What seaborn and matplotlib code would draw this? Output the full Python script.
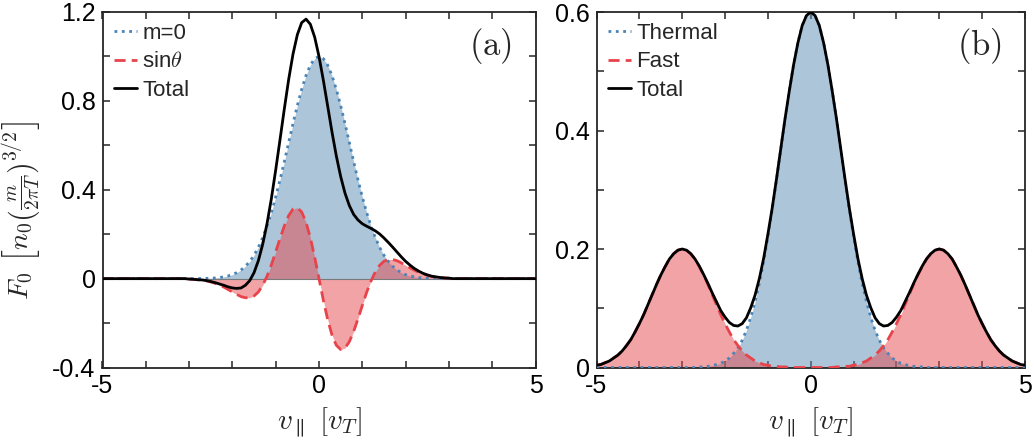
import numpy as np
import matplotlib
matplotlib.use("Agg")
import matplotlib.pyplot as plt
import seaborn as sns

# velocity grid, v_par in units of v_T
v = np.linspace(-5, 5, 101)

# panel (a): m=0 part, sin(theta) part and their total
m0_a = [
    0, 0, 0, 0, 0, 0, 0, 0, 0, 0,
    0, 0, 0, 0, 0, 0, 0, 0, 0, 0,
    0.000, 0.000, 0.000, 0.001, 0.001, 0.002, 0.003, 0.005, 0.008, 0.012,
    0.018, 0.027, 0.039, 0.056, 0.077, 0.105, 0.141, 0.185, 0.237, 0.298,
    0.368, 0.445, 0.527, 0.613, 0.698, 0.779, 0.852, 0.914, 0.961, 0.990,
    1.000, 0.990, 0.961, 0.914, 0.852, 0.779, 0.698, 0.613, 0.527, 0.445,
    0.368, 0.298, 0.237, 0.185, 0.141, 0.105, 0.077, 0.056, 0.039, 0.027,
    0.018, 0.012, 0.008, 0.005, 0.003, 0.002, 0.001, 0.001, 0.000, 0.000,
    0, 0, 0, 0, 0, 0, 0, 0, 0, 0,
    0, 0, 0, 0, 0, 0, 0, 0, 0, 0,
    0,
]
sin_a = [
    0, 0, 0, 0, 0, 0, 0, 0, 0, 0,
    0, 0, 0, 0, 0, 0, 0, 0, 0, 0,
    -0.002, -0.003, -0.005, -0.007, -0.010, -0.015, -0.021, -0.029, -0.038, -0.049,
    -0.060, -0.071, -0.081, -0.086, -0.086, -0.078, -0.060, -0.030, 0.011, 0.062,
    0.121, 0.181, 0.238, 0.284, 0.313, 0.319, 0.300, 0.254, 0.184, 0.097,
    0.000, -0.097, -0.184, -0.254, -0.300, -0.319, -0.313, -0.284, -0.238, -0.181,
    -0.121, -0.062, -0.011, 0.030, 0.060, 0.078, 0.086, 0.086, 0.081, 0.071,
    0.060, 0.049, 0.038, 0.029, 0.021, 0.015, 0.010, 0.007, 0.005, 0.003,
    0.002, 0, 0, 0, 0, 0, 0, 0, 0, 0,
    0, 0, 0, 0, 0, 0, 0, 0, 0, 0,
    0,
]
total_a = [
    0, 0, 0, 0, 0, 0, 0, 0, 0, 0,
    0, 0, 0, 0, 0, 0, 0, 0, 0, 0,
    -0.002, -0.003, -0.005, -0.006, -0.009, -0.013, -0.018, -0.024, -0.030, -0.037,
    -0.042, -0.044, -0.042, -0.030, -0.009, 0.027, 0.081, 0.155, 0.248, 0.360,
    0.489, 0.626, 0.765, 0.897, 1.011, 1.098, 1.152, 1.168, 1.145, 1.087,
    1.000, 0.893, 0.777, 0.660, 0.552, 0.460, 0.385, 0.329, 0.289, 0.264,
    0.247, 0.236, 0.226, 0.215, 0.201, 0.183, 0.163, 0.142, 0.120, 0.098,
    0.078, 0.061, 0.046, 0.034, 0.024, 0.017, 0.011, 0.008, 0.005, 0.003,
    0.002, 0, 0, 0, 0, 0, 0, 0, 0, 0,
    0, 0, 0, 0, 0, 0, 0, 0, 0, 0,
    0,
]

# panel (b): thermal bulk, fast beams and total
thermal_b = [
    0, 0, 0, 0, 0, 0, 0, 0, 0, 0,
    0, 0, 0, 0, 0, 0, 0, 0, 0, 0,
    0.000, 0.000, 0.000, 0.000, 0.001, 0.001, 0.002, 0.003, 0.005, 0.007,
    0.011, 0.016, 0.024, 0.033, 0.046, 0.063, 0.085, 0.111, 0.142, 0.179,
    0.221, 0.267, 0.316, 0.368, 0.419, 0.467, 0.511, 0.548, 0.577, 0.594,
    0.600, 0.594, 0.577, 0.548, 0.511, 0.467, 0.419, 0.368, 0.316, 0.267,
    0.221, 0.179, 0.142, 0.111, 0.085, 0.063, 0.046, 0.033, 0.024, 0.016,
    0.011, 0.007, 0.005, 0.003, 0.002, 0.001, 0.001, 0.000, 0.000, 0.000,
    0, 0, 0, 0, 0, 0, 0, 0, 0, 0,
    0, 0, 0, 0, 0, 0, 0, 0, 0, 0,
    0,
]
fast_b = [
    0.004, 0.005, 0.008, 0.011, 0.016, 0.021, 0.028, 0.037, 0.047, 0.060,
    0.074, 0.089, 0.106, 0.123, 0.140, 0.156, 0.170, 0.183, 0.192, 0.198,
    0.200, 0.198, 0.192, 0.183, 0.170, 0.156, 0.140, 0.123, 0.106, 0.089,
    0.074, 0.060, 0.047, 0.037, 0.028, 0.021, 0.016, 0.011, 0.008, 0.005,
    0.004, 0.002, 0.002, 0.001, 0.001, 0.000, 0.000, 0.000, 0.000, 0.000,
    0.000, 0.000, 0.000, 0.000, 0.000, 0.000, 0.001, 0.001, 0.002, 0.002,
    0.004, 0.005, 0.008, 0.011, 0.016, 0.021, 0.028, 0.037, 0.047, 0.060,
    0.074, 0.089, 0.106, 0.123, 0.140, 0.156, 0.170, 0.183, 0.192, 0.198,
    0.200, 0.198, 0.192, 0.183, 0.170, 0.156, 0.140, 0.123, 0.106, 0.089,
    0.074, 0.060, 0.047, 0.037, 0.028, 0.021, 0.016, 0.011, 0.008, 0.005,
    0.004,
]
total_b = [
    0.004, 0.005, 0.008, 0.011, 0.016, 0.021, 0.028, 0.037, 0.047, 0.060,
    0.074, 0.089, 0.106, 0.123, 0.140, 0.156, 0.170, 0.183, 0.192, 0.198,
    0.200, 0.198, 0.192, 0.183, 0.171, 0.157, 0.142, 0.126, 0.111, 0.096,
    0.085, 0.076, 0.071, 0.070, 0.074, 0.084, 0.101, 0.122, 0.150, 0.184,
    0.225, 0.269, 0.318, 0.369, 0.420, 0.467, 0.511, 0.548, 0.577, 0.594,
    0.600, 0.594, 0.577, 0.548, 0.511, 0.467, 0.420, 0.369, 0.318, 0.269,
    0.225, 0.184, 0.150, 0.122, 0.101, 0.084, 0.074, 0.070, 0.071, 0.076,
    0.085, 0.096, 0.111, 0.126, 0.142, 0.157, 0.171, 0.183, 0.192, 0.198,
    0.200, 0.198, 0.192, 0.183, 0.170, 0.156, 0.140, 0.123, 0.106, 0.089,
    0.074, 0.060, 0.047, 0.037, 0.028, 0.021, 0.016, 0.011, 0.008, 0.005,
    0.004,
]

labels_a = ['m=0', r'sin$\theta$', 'Total']
labels_b = ['Thermal', 'Fast', 'Total']

BLUE = '#4a84b6'
BLUE_FILL = '#5a8db5'
RED = '#e8434b'
RED_FILL = '#e5494f'

sns.set_theme(style='ticks')
plt.rcParams['font.family'] = ['Liberation Sans', 'DejaVu Sans']
plt.rcParams['mathtext.fontset'] = 'cm'
plt.rcParams['axes.linewidth'] = 1.3
plt.rcParams['axes.edgecolor'] = '#262626'


def draw_panel(ax, blue, red, total, labels, tag):
    ax.fill_between(v, 0, blue, color=BLUE_FILL, alpha=0.5, linewidth=0, zorder=1)
    ax.fill_between(v, 0, red, color=RED_FILL, alpha=0.5, linewidth=0, zorder=2)
    ax.axhline(0, color='#7a7a7a', linewidth=0.8, zorder=2.5)
    sns.lineplot(x=v, y=blue, ax=ax, color=BLUE, linestyle=':', linewidth=2.0,
                 label=labels[0], zorder=3)
    sns.lineplot(x=v, y=red, ax=ax, color=RED, linestyle=(0, (4, 2.2)), linewidth=2.0,
                 label=labels[1], zorder=4)
    sns.lineplot(x=v, y=total, ax=ax, color='black', linewidth=2.0,
                 label=labels[2], zorder=5)

    ax.set_xlim(-5, 5)
    ax.set_xticks(range(-5, 6))
    ax.set_xticklabels(['-5', '', '', '', '', '0', '', '', '', '', '5'])
    ax.tick_params(direction='in', length=5, width=1.1, top=True, right=True,
                   labelsize=18, pad=5, colors='#262626', labelcolor='black')
    ax.set_xlabel(r'$v_{\parallel}\ [v_T]$', fontsize=21)
    ax.xaxis.set_label_coords(0.5, -0.105)
    ax.text(0.945, 0.905, r'$\mathrm{(%s)}$' % tag, transform=ax.transAxes,
            ha='right', va='center', fontsize=25)
    ax.legend(loc='upper left', frameon=False, fontsize=16, handlelength=1.05,
              handletextpad=0.25, labelspacing=0.33, borderaxespad=0.2, borderpad=0.3)


fig = plt.figure(figsize=(10.34, 4.48), dpi=100)
ax_a = fig.add_axes([102.5 / 1034, 1 - 367.5 / 448, 433 / 1034, 355.5 / 448])
ax_b = fig.add_axes([596.5 / 1034, 1 - 367.5 / 448, 428.5 / 1034, 355.5 / 448])

draw_panel(ax_a, m0_a, sin_a, total_a, labels_a, 'a')
ax_a.set_ylim(-0.4, 1.2)
ax_a.set_yticks(np.arange(-0.4, 1.21, 0.2))
ax_a.set_yticklabels(['-0.4', '', '0', '', '0.4', '', '0.8', '', '1.2'])
ax_a.set_ylabel(r'$F_0\ \left[n_0\left(\frac{m}{2\pi T}\right)^{3/2}\right]$', fontsize=20)
ax_a.yaxis.set_label_coords(-0.135, 0.44)

draw_panel(ax_b, thermal_b, fast_b, total_b, labels_b, 'b')
ax_b.set_ylim(0, 0.6)
ax_b.set_yticks(np.arange(0, 0.61, 0.1))
ax_b.set_yticklabels(['0', '', '0.2', '', '0.4', '', '0.6'])
ax_b.set_ylabel('')

fig.savefig('out.png', dpi=100)
